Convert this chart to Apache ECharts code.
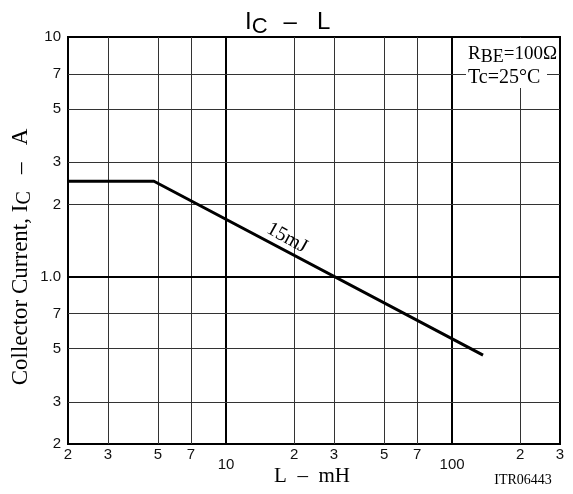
<!DOCTYPE html>
<html><head><meta charset="utf-8">
<script src="https://cdn.jsdelivr.net/npm/echarts@6/dist/echarts.min.js"></script>
<style>html,body{margin:0;padding:0;background:#fff}#c{width:573px;height:494px}</style>
</head><body><div id="c"></div>
<script>
// Data
const curveL = [2, 4.8, 137];          // mH
const curveIc = [2.5, 2.5, 0.47];      // A
const xTicks = [2, 3, 5, 7, 10, 20, 30, 50, 70, 100, 200, 300];
const yTicks = [0.2, 0.3, 0.5, 0.7, 1, 2, 3, 5, 7, 10];
const xGridMinor = [3, 5, 7, 20, 30, 50, 70, 200];
const xGridMajor = [10, 100];
const yGridMinor = [0.3, 0.5, 0.7, 2, 3, 5, 7];
const yGridMajor = [1];

const chart = echarts.init(document.getElementById('c'), null, {renderer: 'canvas'});
const sans = 'Liberation Sans, Arial, sans-serif';
const serif = 'Liberation Serif, Times New Roman, serif';

function lead(v) { return String(Math.round(v / Math.pow(10, Math.floor(Math.log10(v) + 1e-9)))); }

const gridLines = [];
xGridMinor.forEach(v => gridLines.push({xAxis: v, lineStyle: {color: '#333', width: 1, type: 'solid'}}));
xGridMajor.forEach(v => gridLines.push({xAxis: v, lineStyle: {color: '#000', width: 2, type: 'solid'}}));
yGridMinor.forEach(v => gridLines.push({yAxis: v, lineStyle: {color: '#333', width: 1, type: 'solid'}}));
yGridMajor.forEach(v => gridLines.push({yAxis: v, lineStyle: {color: '#000', width: 2, type: 'solid'}}));

chart.setOption({
  animation: false,
  grid: {left: 68, right: 13, top: 37, bottom: 50, show: true, borderColor: '#000', borderWidth: 2, backgroundColor: '#fff'},
  xAxis: {
    type: 'log', logBase: 10, min: 2, max: 300,
    axisLine: {show: true, lineStyle: {color: '#000', width: 2}},
    axisTick: {show: false},
    splitLine: {show: false},
    minorTick: {show: false}, minorSplitLine: {show: false},
    axisLabel: {
      customValues: xTicks, margin: 3, color: '#111', fontFamily: sans, fontSize: 15,
      formatter: v => (Math.abs(v - 10) < 1e-6 || Math.abs(v - 100) < 1e-6) ? '{d|' + Math.round(v) + '}' : lead(v),
      rich: {d: {fontFamily: sans, fontSize: 15, color: '#111', padding: [10, 0, 0, 0]}}
    }
  },
  yAxis: {
    type: 'log', logBase: 10, min: 0.2, max: 10,
    axisLine: {show: true, lineStyle: {color: '#000', width: 2}},
    axisTick: {show: false},
    splitLine: {show: false},
    minorTick: {show: false}, minorSplitLine: {show: false},
    axisLabel: {
      customValues: yTicks, margin: 7, color: '#111', fontFamily: sans, fontSize: 15,
      formatter: v => Math.abs(v - 1) < 1e-6 ? '1.0' : (Math.abs(v - 10) < 1e-6 ? '10' : lead(v))
    }
  },
  series: [
    {
      type: 'line', data: [], silent: true, z: 1,
      markLine: {silent: true, symbol: 'none', label: {show: false}, animation: false, data: gridLines}
    },
    {
      type: 'line', z: 5, silent: true, symbol: 'none',
      data: curveL.map((x, i) => [x, curveIc[i]]),
      lineStyle: {color: '#000', width: 3}
    }
  ],
  graphic: [
    {type: 'text', left: 245, top: 10, style: {
      text: '{i|I}{s|C}{g|\u2013}{i|L}', rich: {
        i: {fontFamily: sans, fontSize: 24, fill: '#000'},
        s: {fontFamily: sans, fontSize: 22, fill: '#000', padding: [10, 0, 0, 0]},
        g: {fontFamily: sans, fontSize: 24, fill: '#000', padding: [0, 20, 0, 16]}
      }}},
    {type: 'text', rotation: Math.PI / 2, x: 21, y: 257, style: {
      text: '{a|Collector Current, I}{b|C}{a|   \u2013   A}', align: 'center', verticalAlign: 'middle', rich: {
        a: {fontFamily: serif, fontSize: 23, fill: '#000'},
        b: {fontFamily: serif, fontSize: 20, fill: '#000', padding: [8, 0, 0, 0]}
      }}},
    {type: 'text', x: 312, y: 476, style: {text: 'L  \u2013  mH', align: 'center', verticalAlign: 'middle', fontFamily: serif, fontSize: 21, fill: '#000'}},
    {type: 'text', x: 523, y: 480, style: {text: 'ITR06443', align: 'center', verticalAlign: 'middle', fontFamily: serif, fontSize: 14, fill: '#000'}},
    {type: 'rect', shape: {x: 466, y: 38, width: 93, height: 28}, style: {fill: '#fff'}, z: 10},
    {type: 'rect', shape: {x: 466, y: 65, width: 81, height: 23}, style: {fill: '#fff'}, z: 10},
    {type: 'text', x: 468, y: 54, z: 11, style: {
      text: '{a|R}{b|BE}{a|=100\u03a9}', verticalAlign: 'middle', rich: {
        a: {fontFamily: serif, fontSize: 19, fill: '#000'},
        b: {fontFamily: serif, fontSize: 18, fill: '#000', padding: [7, 0, 0, 0]}
      }}},
    {type: 'text', x: 468, y: 78, z: 11, style: {text: 'Tc=25\u00b0C', verticalAlign: 'middle', fontFamily: serif, fontSize: 20, fill: '#000'}},
    {type: 'text', x: 287, y: 238, rotation: -29 * Math.PI / 180, z: 11, style: {text: '15mJ', align: 'center', verticalAlign: 'middle', fontFamily: serif, fontSize: 20, fill: '#000'}}
  ]
});
</script></body></html>
